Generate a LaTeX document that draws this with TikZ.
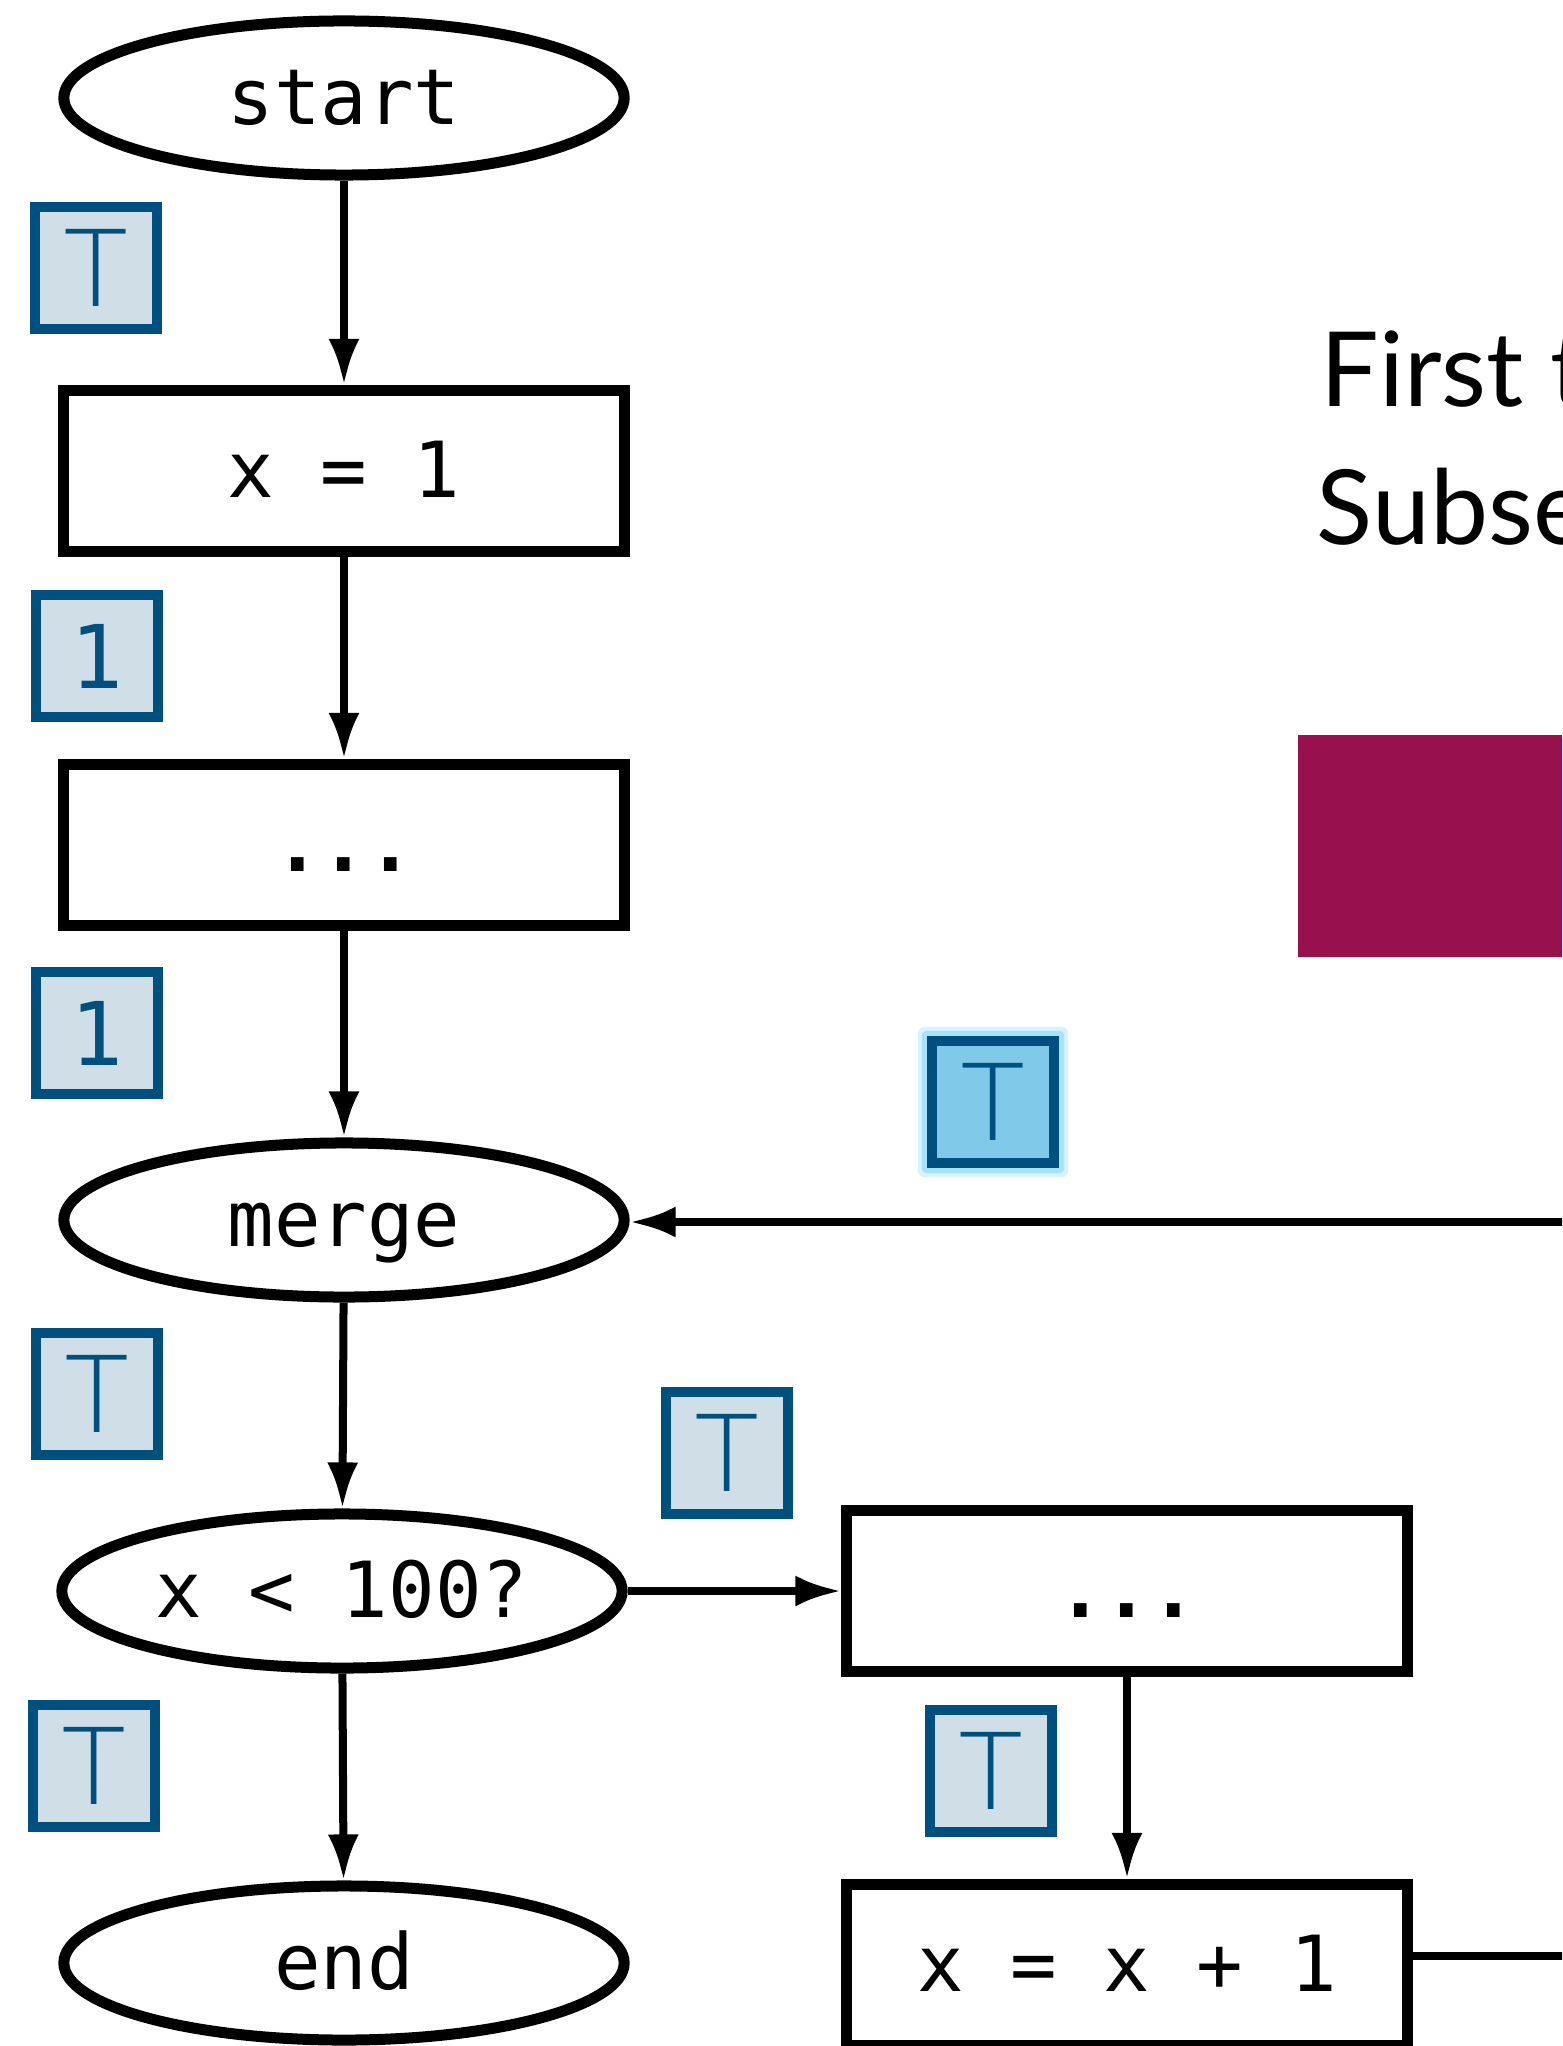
\documentclass[tikz,border=0pt]{standalone}
\usepackage{fontspec}
\setmainfont{Lato}
\newfontfamily\monofont{DejaVu Sans Mono}
\newfontfamily\tfont{Lato Light}
\usetikzlibrary{shapes.geometric,arrows.meta}
\definecolor{tblue}{HTML}{00507F}
\definecolor{tfill}{HTML}{D0DFE7}
\definecolor{thigh}{HTML}{80C9E8}
\definecolor{glowa}{HTML}{D8F3FF}
\definecolor{glowb}{HTML}{A8E2FA}
\definecolor{plum}{HTML}{99104F}
\tikzset{
  codefont/.style={font=\monofont\fontsize{22}{26}\selectfont},
  term/.style={ellipse, draw, line width=0.11cm, minimum width=5.60cm, minimum height=1.54cm,
    inner sep=0pt, codefont, text height=0.52cm, text depth=0cm},
  proc/.style={rectangle, draw, line width=0.11cm, minimum width=5.60cm, minimum height=1.61cm,
    inner sep=0pt, codefont, text height=0.52cm, text depth=0cm},
  tagbox/.style={rectangle, draw=tblue, fill=tfill, line width=0.1cm, minimum size=1.21cm,
    inner sep=0pt, text=tblue, font=\tfont\fontsize{31}{33}\selectfont},
  numtag/.style={tagbox, font=\monofont\fontsize{25}{30}\selectfont},
  conn/.style={line width=0.08cm, -{Latex[length=0.46cm,width=0.31cm]}},
  plainconn/.style={line width=0.08cm},
}
\begin{document}
\begin{tikzpicture}[x=0.01cm,y=-0.01cm]
\path[use as bounding box, clip] (0,0) rectangle (1562,2046);
% left column
\node[term] (start) at (344,98) {start};
\node[proc] (x1) at (344,471) {x = 1};
\node[proc] (dotsA) at (344,845) {\bfseries ...};
\node[term] (merge) at (344,1220) {merge};
\node[term] (cond) at (342,1591) {x < 100?};
\node[term] (end) at (344,1963) {end};
% right column
\node[proc] (dotsB) at (1127,1591) {\bfseries ...};
\node[proc] (inc) at (1127,1965) {x = x + 1};
% free ends beyond the right edge
\coordinate (backin) at (1620,1222);
\coordinate (incout) at (1620,1956);
% tags
\node[tagbox] (tA) at (96,268) {T};
\node[numtag] (nA) at (97,656) {1};
\node[numtag] (nB) at (97,1033) {1};
\node[tagbox] (tB) at (97,1394) {T};
\node[tagbox] (tC) at (94,1766) {T};
\node[tagbox] (tD) at (727,1453) {T};
\node[tagbox] (tE) at (991,1771) {T};
% highlighted tag with glow
\node[rectangle, rounded corners=0.06cm, fill=glowa, minimum size=1.50cm, inner sep=0pt] (glow1) at (993,1102) {};
\node[rectangle, rounded corners=0.04cm, fill=glowb, minimum size=1.42cm, inner sep=0pt] (glow2) at (993,1102) {};
\node[tagbox, fill=thigh] (tH) at (993,1102) {T};
% connectors
\draw[conn] (start) -- (x1);
\draw[conn] (x1) -- (dotsA);
\draw[conn] (dotsA) -- (merge);
\draw[conn] (merge) -- (cond);
\draw[conn] (cond) -- (end);
\draw[conn] (cond) -- (dotsB);
\draw[conn] (dotsB.south -| inc.north) -- (inc);
\draw[conn] (backin) -- (backin -| merge.east);
\draw[plainconn] (inc.east |- incout) -- (incout);
% heading text and coloured block
\node[anchor=base west, inner sep=0pt, font=\fontsize{29.5}{35}\selectfont] (head1) at (1320,407) {First t};
\node[anchor=base west, inner sep=0pt, font=\fontsize{29.5}{35}\selectfont] (head2) at (1316,545) {Subse};
\fill[plum] (1298,735) rectangle (1620,957);
\end{tikzpicture}
\end{document}
